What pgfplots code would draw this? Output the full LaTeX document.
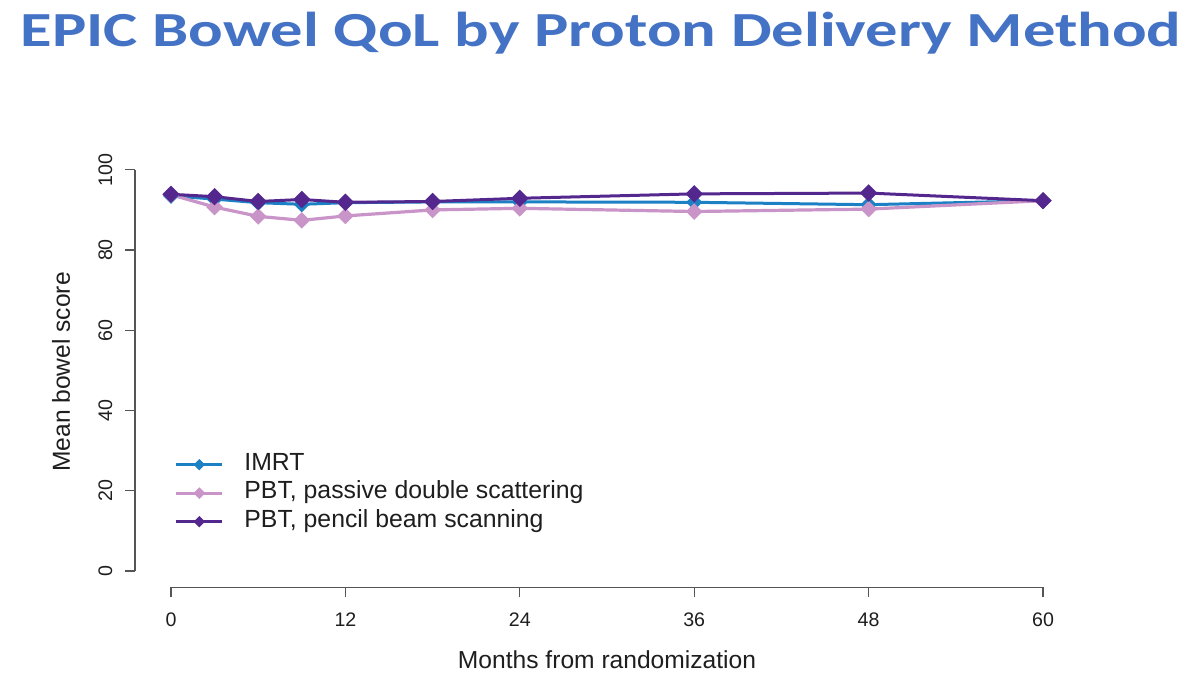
\documentclass[border=0pt]{standalone}
\usepackage{fontspec}
\setmainfont{Liberation Sans}
\newfontfamily\titlefont{Carlito}
\usepackage{pgfplots}
\pgfplotsset{compat=1.18}
\definecolor{imrt}{RGB}{27,128,196}
\definecolor{pds}{RGB}{201,148,199}
\definecolor{pbs}{RGB}{84,39,143}
\definecolor{titleblue}{RGB}{68,114,196}
\definecolor{axgray}{RGB}{85,85,85}
\definecolor{txt}{RGB}{30,30,30}
\begin{document}
\begin{tikzpicture}
\begin{axis}[
  x=7.2667pt, y=2.006pt,
  xmin=-2.477, xmax=62.4, ymin=-4.06, ymax=104,
  clip=false,
  axis line style={draw=none},
  tick align=outside,
  major tick length=5pt,
  xtick pos=bottom, ytick pos=left,
  tick style={draw=axgray, line width=0.6pt},
  xtick={0,12,24,36,48,60},
  ytick={0,20,40,60,80,100},
  /pgf/number format/assume math mode=true,
  tick label style={font=\fontsize{9.8}{11}\selectfont, text=txt},
  xticklabel style={yshift=-4pt},
  yticklabel style={rotate=90, anchor=south, yshift=2.75pt},
  xlabel={Months from randomization},
  ylabel={Mean bowel score},
  label style={font=\fontsize{12.3}{14}\selectfont, text=txt},
  xlabel style={at={(axis description cs:0.5006,-0.1677)}, anchor=center},
  ylabel style={at={(axis description cs:-0.0785,0.4966)}, anchor=center, rotate=0},
  title={\scalebox{1.317}[1]{\titlefont\bfseries\fontsize{24.5}{30}\selectfont EPIC Bowel QoL by Proton Delivery Method}},
  title style={at={(axis description cs:0.4943,1.2186)}, anchor=base, text=titleblue, overlay},
  legend style={at={(axis description cs:0.0417,0.3167)}, anchor=north west, draw=none, fill=none,
    inner sep=0pt, column sep=8.5pt,
    font=\fontsize{12.4}{14}\selectfont, text=txt,
    nodes={inner sep=1.75pt, text height=8.05pt, text depth=2.7pt}},
  legend cell align=left,
  legend image code/.code={\draw[mark size=1.27pt, mark repeat=2, mark phase=2] plot coordinates {(0pt,0pt) (11.5pt,0pt) (23pt,0pt)};},
]
\path (axis cs:-11.766,-27.17) rectangle (axis cs:70.80,142.32);
\draw[axgray, line width=0.6pt] (axis cs:0,-4.06) -- (axis cs:60,-4.06);
\draw[axgray, line width=0.6pt] (axis cs:-2.477,0) -- (axis cs:-2.477,100);

\addplot[color=imrt, line width=1.5pt, mark=square*, mark size=2.12pt, mark options={rotate=45}] coordinates {
 (0,93.5) (3,92.7) (6,91.8) (9,91.4) (12,91.8) (18,92.0) (24,92.0) (36,91.9) (48,91.3) (60,92.3)};
\addlegendentry{IMRT}
\addplot[color=pds, line width=1.6pt, mark=square*, mark size=2.12pt, mark options={rotate=45}] coordinates {
 (0,93.8) (3,90.7) (6,88.4) (9,87.4) (12,88.5) (18,90.0) (24,90.4) (36,89.6) (48,90.2) (60,92.3)};
\addlegendentry{PBT, passive double scattering}
\addplot[color=pbs, line width=1.5pt, mark=square*, mark size=2.33pt, mark options={rotate=45}] coordinates {
 (0,93.9) (3,93.3) (6,92.1) (9,92.6) (12,91.9) (18,92.1) (24,92.9) (36,94.0) (48,94.2) (60,92.3)};
\addlegendentry{PBT, pencil beam scanning}
\end{axis}
\end{tikzpicture}
\end{document}
